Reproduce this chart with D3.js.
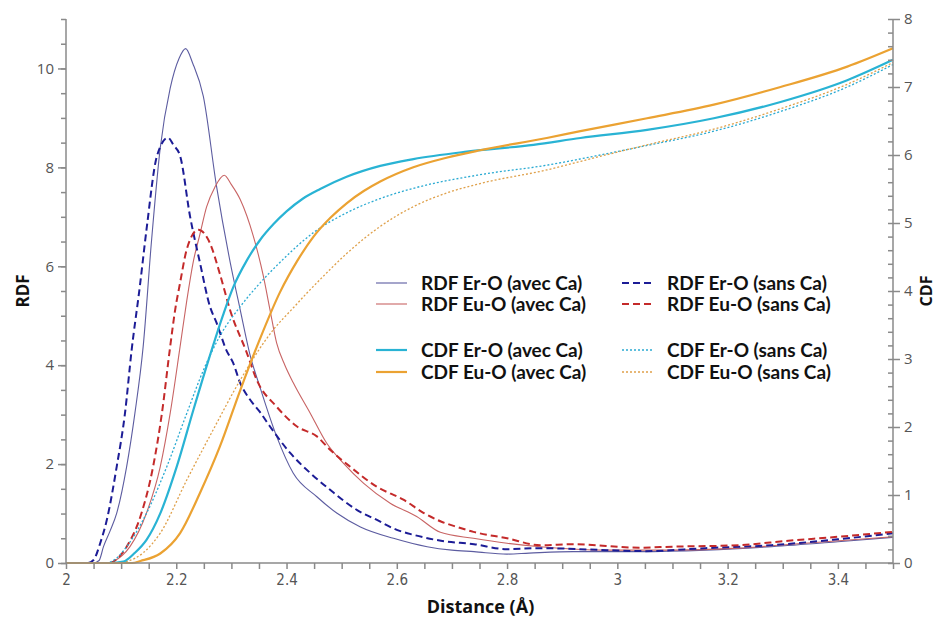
<!DOCTYPE html>
<html>
<head>
<meta charset="utf-8">
<script src="https://cdn.jsdelivr.net/npm/d3@7"></script>
<style>
  html, body { margin: 0; padding: 0; background: #fff; }
  svg { display: block; }
</style>
</head>
<body>
<svg id="chart" width="936" height="618"></svg>
<script>
// ---------- DATA ----------
const xTickValues = [2, 2.2, 2.4, 2.6, 2.8, 3, 3.2, 3.4];
const rdfTickValues = [0, 2, 4, 6, 8, 10];
const cdfTickValues = [0, 1, 2, 3, 4, 5, 6, 7, 8];

const legendLabels = [
  "RDF Er-O (avec Ca)", "RDF Eu-O (avec Ca)", "CDF Er-O (avec Ca)", "CDF Eu-O (avec Ca)",
  "RDF Er-O (sans Ca)", "RDF Eu-O (sans Ca)", "CDF Er-O (sans Ca)", "CDF Eu-O (sans Ca)"
];

// RDF Er-O (avec Ca)
const rdfErAvecX = [2.00, 2.05, 2.06, 2.068, 2.08, 2.092, 2.11, 2.125, 2.14, 2.155, 2.171, 2.189, 2.205, 2.217, 2.23, 2.249, 2.273, 2.298, 2.316, 2.334, 2.352, 2.382, 2.412, 2.455, 2.491, 2.534, 2.594, 2.655, 2.70, 2.74, 2.80, 2.84, 2.92, 3.04, 3.16, 3.28, 3.40, 3.50];
const rdfErAvecY = [0, 0, 0.05, 0.33, 0.65, 1.01, 1.95, 3.03, 4.38, 6.5, 8.4, 9.6, 10.2, 10.4, 10.1, 9.44, 7.62, 6.07, 5.12, 4.2, 3.55, 2.56, 1.82, 1.34, 1.01, 0.73, 0.5, 0.33, 0.26, 0.23, 0.18, 0.20, 0.23, 0.23, 0.26, 0.33, 0.43, 0.52];

// RDF Er-O (sans Ca)
const rdfErSansX = [2.00, 2.04, 2.05, 2.062, 2.074, 2.092, 2.107, 2.119, 2.134, 2.146, 2.165, 2.185, 2.195, 2.207, 2.225, 2.243, 2.261, 2.273, 2.291, 2.303, 2.316, 2.334, 2.352, 2.370, 2.407, 2.443, 2.479, 2.528, 2.564, 2.60, 2.63, 2.68, 2.74, 2.80, 2.86, 2.98, 3.05, 3.16, 3.28, 3.40, 3.50];
const rdfErSansY = [0, 0, 0.06, 0.4, 0.87, 1.95, 3.03, 4.3, 5.6, 6.74, 8.23, 8.6, 8.45, 8.23, 7.01, 6.07, 5.19, 4.86, 4.3, 4.05, 3.64, 3.30, 3.05, 2.76, 2.22, 1.82, 1.48, 1.07, 0.87, 0.67, 0.57, 0.45, 0.38, 0.28, 0.30, 0.26, 0.24, 0.30, 0.36, 0.48, 0.60];

// RDF Eu-O (avec Ca)
const rdfEuAvecX = [2.00, 2.08, 2.086, 2.116, 2.146, 2.171, 2.189, 2.207, 2.219, 2.231, 2.243, 2.255, 2.270, 2.287, 2.30, 2.316, 2.34, 2.358, 2.370, 2.382, 2.397, 2.412, 2.443, 2.473, 2.503, 2.54, 2.588, 2.636, 2.679, 2.739, 2.80, 2.86, 2.98, 3.10, 3.22, 3.34, 3.50];
const rdfEuAvecY = [0, 0, 0.03, 0.33, 1.01, 1.95, 3.03, 4.38, 5.3, 6.1, 6.65, 7.2, 7.6, 7.84, 7.65, 7.35, 6.6, 5.8, 5.12, 4.45, 4.0, 3.65, 3.03, 2.42, 2.02, 1.61, 1.21, 0.94, 0.62, 0.50, 0.40, 0.33, 0.26, 0.26, 0.30, 0.40, 0.53];

// RDF Eu-O (sans Ca)
const rdfEuSansX = [2.00, 2.08, 2.086, 2.110, 2.137, 2.158, 2.174, 2.189, 2.198, 2.207, 2.219, 2.240, 2.261, 2.279, 2.298, 2.328, 2.346, 2.382, 2.419, 2.455, 2.479, 2.515, 2.564, 2.612, 2.649, 2.68, 2.709, 2.739, 2.80, 2.86, 2.92, 3.04, 3.10, 3.22, 3.31, 3.40, 3.50];
const rdfEuSansY = [0, 0, 0.03, 0.33, 1.01, 1.95, 3.03, 4.38, 5.12, 5.67, 6.34, 6.74, 6.47, 5.85, 5.1, 4.25, 3.7, 3.16, 2.76, 2.56, 2.29, 1.95, 1.54, 1.28, 1.01, 0.84, 0.73, 0.63, 0.50, 0.36, 0.38, 0.31, 0.33, 0.36, 0.45, 0.53, 0.63];

// CDF Er-O (avec Ca)
const cdfErAvecX = [2.00, 2.08, 2.104, 2.125, 2.146, 2.171, 2.201, 2.231, 2.261, 2.285, 2.303, 2.328, 2.352, 2.376, 2.40, 2.43, 2.461, 2.509, 2.57, 2.63, 2.727, 2.848, 2.933, 3.054, 3.175, 3.296, 3.417, 3.50];
const cdfErAvecY = [0, 0, 0.02, 0.15, 0.34, 0.73, 1.42, 2.25, 3.05, 3.65, 4.05, 4.45, 4.75, 4.98, 5.17, 5.36, 5.50, 5.68, 5.84, 5.94, 6.05, 6.15, 6.25, 6.37, 6.54, 6.78, 7.10, 7.40];

// CDF Eu-O (avec Ca)
const cdfEuAvecX = [2.00, 2.12, 2.135, 2.171, 2.207, 2.243, 2.279, 2.316, 2.352, 2.388, 2.42, 2.449, 2.48, 2.509, 2.54, 2.57, 2.63, 2.69, 2.751, 2.872, 2.933, 3.054, 3.175, 3.296, 3.417, 3.50];
const cdfEuAvecY = [0, 0, 0.03, 0.14, 0.44, 1.03, 1.71, 2.54, 3.30, 3.98, 4.45, 4.80, 5.08, 5.29, 5.47, 5.61, 5.82, 5.96, 6.07, 6.25, 6.35, 6.54, 6.74, 7.0, 7.30, 7.57];

// CDF Er-O (sans Ca)
const cdfErSansX = [2.00, 2.07, 2.09, 2.11, 2.146, 2.183, 2.219, 2.25, 2.28, 2.316, 2.35, 2.388, 2.449, 2.509, 2.57, 2.63, 2.751, 2.872, 2.969, 3.054, 3.175, 3.296, 3.417, 3.50];
const cdfErSansY = [0, 0, 0.06, 0.24, 0.73, 1.42, 2.2, 2.85, 3.35, 3.77, 4.1, 4.42, 4.86, 5.15, 5.36, 5.51, 5.71, 5.85, 6.0, 6.14, 6.35, 6.64, 7.0, 7.33];

// CDF Eu-O (sans Ca)
const cdfEuSansX = [2.00, 2.10, 2.11, 2.14, 2.171, 2.219, 2.267, 2.316, 2.376, 2.412, 2.437, 2.461, 2.509, 2.57, 2.63, 2.69, 2.751, 2.872, 2.969, 3.054, 3.175, 3.296, 3.417, 3.50];
const cdfEuSansY = [0, 0, 0.02, 0.15, 0.44, 1.22, 1.96, 2.69, 3.43, 3.75, 3.97, 4.17, 4.55, 4.95, 5.24, 5.44, 5.58, 5.78, 5.98, 6.15, 6.38, 6.68, 7.04, 7.36];

// ---------- CHART ----------
const svg = d3.select("#chart");
const W = 936, H = 618;
const m = { left: 66, right: 43, top: 19, bottom: 55 };
const pw = W - m.left - m.right, ph = H - m.top - m.bottom;

const x = d3.scaleLinear().domain([2, 3.5]).range([m.left, m.left + pw]);
const yL = d3.scaleLinear().domain([0, 11]).range([m.top + ph, m.top]);
const yR = d3.scaleLinear().domain([0, 8]).range([m.top + ph, m.top]);

const axisColor = "#8a8a8a";
const labelColor = "#555";
const tickFont = "'Open Sans', 'DejaVu Sans', sans-serif";

function zip(xs, ys) { return xs.map((v, i) => [v, ys[i]]); }

const series = [
  { name: legendLabels[0], xs: rdfErAvecX, ys: rdfErAvecY, y: yL, color: "#5c5ca0", w: 1.1, dash: null },
  { name: legendLabels[1], xs: rdfEuAvecX, ys: rdfEuAvecY, y: yL, color: "#c86464", w: 1.1, dash: null },
  { name: legendLabels[4], xs: rdfErSansX, ys: rdfErSansY, y: yL, color: "#1c1c96", w: 2, dash: "7,4" },
  { name: legendLabels[5], xs: rdfEuSansX, ys: rdfEuSansY, y: yL, color: "#c42a2a", w: 2, dash: "7,4" },
  { name: legendLabels[6], xs: cdfErSansX, ys: cdfErSansY, y: yR, color: "#2aaad2", w: 1.3, dash: "2,2" },
  { name: legendLabels[7], xs: cdfEuSansX, ys: cdfEuSansY, y: yR, color: "#dfa04a", w: 1.3, dash: "2,2" },
  { name: legendLabels[2], xs: cdfErAvecX, ys: cdfErAvecY, y: yR, color: "#29b3d4", w: 2.2, dash: null },
  { name: legendLabels[3], xs: cdfEuAvecX, ys: cdfEuAvecY, y: yR, color: "#eba232", w: 2.2, dash: null }
];

const gLines = svg.append("g");
series.forEach(s => {
  const line = d3.line().x(d => x(d[0])).y(d => s.y(d[1])).curve(d3.curveMonotoneX);
  gLines.append("path")
    .datum(zip(s.xs, s.ys))
    .attr("d", line)
    .attr("fill", "none")
    .attr("stroke", s.color)
    .attr("stroke-width", s.w)
    .attr("stroke-dasharray", s.dash)
    .attr("stroke-linejoin", "round");
});

// X axis
const gx = svg.append("g").attr("transform", `translate(0,${m.top + ph})`);
gx.call(d3.axisBottom(x).tickValues(d3.range(0, 31).map(i => 2 + i * 0.05)).tickSize(6).tickFormat(""));
gx.call(g => g.select(".domain").remove());
gx.append("line").attr("x1", m.left).attr("x2", m.left + pw).attr("y1", 0).attr("y2", 0);
const gxl = svg.append("g").attr("transform", `translate(0,${m.top + ph})`);
gxl.call(d3.axisBottom(x).tickValues(xTickValues).tickSize(0).tickPadding(14).tickFormat(d => d3.format("~g")(d)));
gxl.select(".domain").remove();
gxl.selectAll("text").attr("font-size", 15).attr("font-family", "'DejaVu Sans Condensed', 'Liberation Sans Narrow', 'Open Sans', sans-serif").attr("fill", labelColor).attr("dy", "0.55em");

// Left axis
const gyl = svg.append("g").attr("transform", `translate(${m.left},0)`);
gyl.call(d3.axisLeft(yL).tickValues(d3.range(0, 23).map(i => i * 0.5)).tickSize(5).tickFormat(""));
gyl.select(".domain").remove();
gyl.append("line").attr("x1", 0).attr("x2", 0).attr("y1", m.top).attr("y2", m.top + ph);
const gyl2 = svg.append("g").attr("transform", `translate(${m.left},0)`);
gyl2.call(d3.axisLeft(yL).tickValues(rdfTickValues).tickSize(8).tickPadding(4));
gyl2.select(".domain").remove();
gyl2.selectAll("text").attr("font-size", 15).attr("font-family", tickFont).attr("fill", labelColor);

// Right axis
const xr = m.left + pw;
const gyr = svg.append("g").attr("transform", `translate(${xr},0)`);
gyr.call(d3.axisLeft(yR).tickValues(d3.range(0, 41).map(i => i * 0.2)).tickSize(5).tickFormat(""));
gyr.select(".domain").remove();
gyr.append("line").attr("x1", 0).attr("x2", 0).attr("y1", m.top).attr("y2", m.top + ph);
const gyr2 = svg.append("g").attr("transform", `translate(${xr},0)`);
gyr2.call(d3.axisRight(yR).tickValues(cdfTickValues).tickSize(7).tickPadding(4));
gyr2.select(".domain").remove();
gyr2.selectAll("text").attr("font-size", 15).attr("font-family", tickFont).attr("fill", labelColor);

svg.selectAll(".tick line").attr("stroke", axisColor).attr("stroke-width", 1.2);
svg.selectAll("g > line").attr("stroke", axisColor).attr("stroke-width", 1.5);

// Axis titles
const titleFont = "'Open Sans', 'DejaVu Sans', sans-serif";
svg.append("text").attr("x", m.left + pw / 2 + 1).attr("y", 613)
  .attr("text-anchor", "middle").attr("font-family", titleFont).attr("font-weight", "bold")
  .attr("font-size", 18).attr("fill", "#111").text("Distance (Å)");
svg.append("text").attr("transform", `translate(29,${m.top + ph / 2}) rotate(-90)`)
  .attr("text-anchor", "middle").attr("font-family", titleFont).attr("font-weight", "bold")
  .attr("font-size", 17).attr("fill", "#111").text("RDF");
svg.append("text").attr("transform", `translate(932,${m.top + ph / 2}) rotate(-90)`)
  .attr("text-anchor", "middle").attr("font-family", titleFont).attr("font-weight", "bold")
  .attr("font-size", 16).attr("fill", "#111").text("CDF");

// Legend
const legendItems = [
  { s: series[0], col: 0, row: 0 }, { s: series[1], col: 0, row: 1 },
  { s: series[6], col: 0, row: 2 }, { s: series[7], col: 0, row: 3 },
  { s: series[2], col: 1, row: 0 }, { s: series[3], col: 1, row: 1 },
  { s: series[4], col: 1, row: 2 }, { s: series[5], col: 1, row: 3 }
];
const colX = [376, 622];
const rowY = [283, 304, 350, 372];
const gLeg = svg.append("g");
legendItems.forEach(it => {
  const lx = colX[it.col], ly = rowY[it.row];
  gLeg.append("line").attr("x1", lx).attr("x2", lx + 31).attr("y1", ly).attr("y2", ly)
    .attr("stroke", it.s.color).attr("stroke-width", it.s.w)
    .attr("stroke-dasharray", it.s.dash);
  gLeg.append("text").attr("x", lx + 45).attr("y", ly).attr("dy", "0.36em")
    .attr("font-family", "Lato, 'Open Sans', sans-serif").attr("font-weight", "bold")
    .attr("font-size", 19).attr("fill", "#111").text(it.s.name);
});
</script>
</body>
</html>
